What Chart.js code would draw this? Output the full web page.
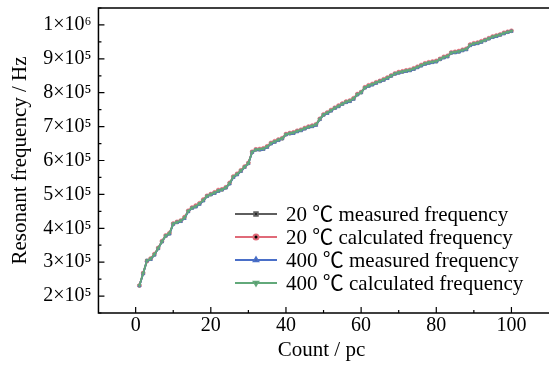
<!DOCTYPE html>
<html lang="en">
<head>
    <meta charset="UTF-8">
    <meta name="viewport" content="width=device-width, initial-scale=1.0">
    <title>Resonant frequency</title>
    <style>
        html, body { margin: 0; padding: 0; background: #fff; }
        .chart-box { width: 549px; height: 365px; }
    </style>
</head>
<body>

<div class="chart-box">
    <canvas id="freqChart"></canvas>
</div>

<script src="https://cdn.jsdelivr.net/npm/chart.js"></script>
<script>
    // Sample count (x axis)
    const counts = [1, 2, 3, 4, 5, 6, 7, 8, 9, 10, 11, 12, 13, 14, 15, 16, 17, 18, 19, 20,
        21, 22, 23, 24, 25, 26, 27, 28, 29, 30, 31, 32, 33, 34, 35, 36, 37, 38, 39, 40,
        41, 42, 43, 44, 45, 46, 47, 48, 49, 50, 51, 52, 53, 54, 55, 56, 57, 58, 59, 60,
        61, 62, 63, 64, 65, 66, 67, 68, 69, 70, 71, 72, 73, 74, 75, 76, 77, 78, 79, 80,
        81, 82, 83, 84, 85, 86, 87, 88, 89, 90, 91, 92, 93, 94, 95, 96, 97, 98, 99, 100];

    // Resonant frequency (Hz)
    const measured20 = [231000, 267000, 305000, 309000, 322000, 341000, 361000, 378000, 384000, 413000,
        418000, 421000, 430000, 450000, 460000, 464000, 472000, 482000, 495000, 500000,
        504000, 510000, 514000, 520000, 532000, 551000, 559000, 569000, 581000, 592000,
        625000, 632000, 632000, 634000, 640000, 650000, 655000, 660000, 665000, 677000,
        680000, 681000, 686000, 689000, 694000, 699000, 701000, 705000, 722000, 735000,
        740000, 747000, 755000, 760000, 767000, 772000, 775000, 782000, 795000, 801000,
        815000, 820000, 824000, 829000, 834000, 838000, 843000, 850000, 856000, 859000,
        862000, 864000, 866000, 870000, 875000, 880000, 885000, 888000, 890000, 892000,
        899000, 904000, 907000, 918000, 919000, 921000, 925000, 928000, 940000, 944000,
        946000, 950000, 955000, 960000, 964000, 967000, 971000, 975000, 979000, 982000];
    const calculated20 = [231000, 268000, 303000, 311000, 324000, 342000, 362000, 379000, 386000, 414000,
        419000, 423000, 433000, 452000, 461000, 467000, 474000, 485000, 496000, 501000,
        506000, 513000, 515000, 521000, 534000, 553000, 561000, 571000, 582000, 593000,
        626000, 633000, 634000, 636000, 642000, 652000, 657000, 662000, 666000, 678000,
        681000, 683000, 688000, 691000, 696000, 700000, 703000, 707000, 723000, 736000,
        742000, 749000, 756000, 762000, 768000, 774000, 777000, 784000, 796000, 802000,
        816000, 822000, 826000, 831000, 835000, 840000, 845000, 851000, 857000, 861000,
        863000, 866000, 868000, 872000, 877000, 882000, 887000, 890000, 892000, 894000,
        900000, 906000, 909000, 919000, 921000, 923000, 927000, 930000, 942000, 946000,
        948000, 952000, 956000, 961000, 966000, 969000, 972000, 977000, 980000, 983000];
    const measured400 = [230000, 266000, 304000, 308000, 321000, 340000, 360000, 377000, 383000, 412000,
        417000, 420000, 429000, 449000, 459000, 463000, 471000, 481000, 494000, 499000,
        503000, 509000, 513000, 519000, 531000, 550000, 558000, 568000, 580000, 591000,
        624000, 631000, 631000, 633000, 639000, 649000, 654000, 659000, 664000, 676000,
        679000, 680000, 685000, 688000, 693000, 698000, 700000, 704000, 721000, 734000,
        739000, 746000, 754000, 759000, 766000, 771000, 774000, 781000, 794000, 800000,
        814000, 819000, 823000, 828000, 833000, 837000, 842000, 849000, 855000, 858000,
        861000, 863000, 865000, 869000, 874000, 879000, 884000, 887000, 889000, 891000,
        898000, 903000, 906000, 917000, 918000, 920000, 924000, 927000, 939000, 943000,
        945000, 949000, 954000, 959000, 963000, 966000, 970000, 974000, 978000, 981000];
    const calculated400 = [231000, 267000, 304000, 310000, 323000, 341000, 361000, 378000, 385000, 413000,
        418000, 422000, 431000, 451000, 460000, 465000, 473000, 483000, 495000, 500000,
        505000, 511000, 514000, 520000, 533000, 552000, 560000, 570000, 581000, 592000,
        625000, 632000, 633000, 635000, 641000, 651000, 656000, 661000, 665000, 677000,
        680000, 682000, 687000, 690000, 695000, 699000, 702000, 706000, 722000, 735000,
        741000, 748000, 755000, 761000, 767000, 773000, 776000, 783000, 795000, 801000,
        815000, 821000, 825000, 830000, 834000, 839000, 844000, 850000, 856000, 860000,
        862000, 865000, 867000, 871000, 876000, 881000, 886000, 889000, 891000, 893000,
        899000, 905000, 908000, 918000, 920000, 922000, 926000, 929000, 941000, 945000,
        947000, 951000, 955000, 960000, 965000, 968000, 971000, 976000, 979000, 982000];

    // Axis ticks
    const xTicks = [0, 20, 40, 60, 80, 100];
    const xMinorTicks = [10, 30, 50, 70, 90];
    const yTicks = [200000, 300000, 400000, 500000, 600000, 700000, 800000, 900000, 1000000];
    const yTickLabels = ['2×10⁵', '3×10⁵', '4×10⁵', '5×10⁵', '6×10⁵', '7×10⁵', '8×10⁵', '9×10⁵', '1×10⁶'];
    const yMinorTicks = [150000, 250000, 350000, 450000, 550000, 650000, 750000, 850000, 950000, 1050000];

    const serif = '"Liberation Serif", "Noto Sans CJK SC", serif';

    // Frame, inward ticks and legend drawn on top of the plot
    const framePlugin = {
        id: 'framePlugin',
        afterDraw(chart) {
            const ctx = chart.ctx;
            const a = chart.chartArea;
            const xs = chart.scales.x;
            const ys = chart.scales.y;
            ctx.save();
            ctx.strokeStyle = '#000';
            ctx.lineWidth = 1.5;
            ctx.beginPath();
            ctx.moveTo(chart.width, a.top);
            ctx.lineTo(a.left, a.top);
            ctx.lineTo(a.left, a.bottom);
            ctx.lineTo(chart.width, a.bottom);
            ctx.stroke();

            ctx.lineWidth = 1.2;
            ctx.beginPath();
            xTicks.forEach(v => {
                const px = xs.getPixelForValue(v);
                ctx.moveTo(px, a.bottom); ctx.lineTo(px, a.bottom - 6);
            });
            xMinorTicks.forEach(v => {
                const px = xs.getPixelForValue(v);
                ctx.moveTo(px, a.bottom); ctx.lineTo(px, a.bottom - 3);
            });
            yTicks.forEach(v => {
                const py = ys.getPixelForValue(v);
                ctx.moveTo(a.left, py); ctx.lineTo(a.left + 6, py);
            });
            yMinorTicks.forEach(v => {
                const py = ys.getPixelForValue(v);
                ctx.moveTo(a.left, py); ctx.lineTo(a.left + 3, py);
            });
            ctx.stroke();

            // legend
            ctx.font = '21px ' + serif;
            ctx.textBaseline = 'middle';
            ctx.textAlign = 'left';
            chart.data.datasets.forEach((ds, i) => {
                const y = 214 + i * 23;
                ctx.strokeStyle = ds.borderColor;
                ctx.lineWidth = 2;
                ctx.beginPath();
                ctx.moveTo(235, y); ctx.lineTo(277, y);
                ctx.stroke();
                Chart.helpers.drawPoint(ctx, {
                    pointStyle: ds.pointStyle,
                    rotation: ds.pointRotation || 0,
                    radius: 2.5,
                    borderWidth: 1
                }, 256, y);
                ctx.fillStyle = '#000';
                ctx.fillText(ds.label, 286, y + 1);
            });
            ctx.restore();
        }
    };

    function series(label, data, color, style, rot, order) {
        return {
            label: label,
            data: data,
            borderColor: color,
            backgroundColor: color,
            borderWidth: 1.8,
            pointStyle: style,
            pointRotation: rot,
            pointRadius: 2,
            pointBorderWidth: 0.5,
            tension: 0,
            order: order
        };
    }

    new Chart(document.getElementById('freqChart').getContext('2d'), {
        type: 'line',
        data: {
            labels: counts,
            datasets: [
                series('20 ℃ measured frequency', measured20, '#5e5e5e', 'rect', 0, 3),
                series('20 ℃ calculated frequency', calculated20, '#e06a78', 'circle', 0, 2),
                series('400 ℃ measured frequency', measured400, '#4a6fc8', 'triangle', 0, 1),
                series('400 ℃ calculated frequency', calculated400, '#62a97a', 'triangle', 180, 0)
            ]
        },
        options: {
            responsive: true,
            maintainAspectRatio: false,
            animation: false,
            layout: { padding: { top: 8, right: -6, bottom: 4, left: 8 } },
            plugins: {
                legend: { display: false },
                tooltip: { enabled: false }
            },
            scales: {
                x: {
                    type: 'linear',
                    min: -9.9,
                    max: 108.8,
                    afterBuildTicks: s => { s.ticks = xTicks.map(v => ({ value: v })); },
                    grid: { display: false, drawTicks: false },
                    border: { display: false },
                    ticks: { color: '#000', padding: 1, font: { family: serif, size: 20 } },
                    title: { display: true, text: 'Count / pc', color: '#000', padding: { top: 1, bottom: 0 }, font: { family: serif, size: 21, lineHeight: 1.0 } }
                },
                y: {
                    min: 150000,
                    max: 1050000,
                    afterBuildTicks: s => { s.ticks = yTicks.map(v => ({ value: v })); },
                    grid: { display: false, drawTicks: false },
                    border: { display: false },
                    ticks: {
                        color: '#000',
                        padding: 7,
                        font: { family: serif, size: 20, lineHeight: 0.1 },
                        callback: (v, i) => yTickLabels[i]
                    },
                    title: { display: true, text: 'Resonant frequency / Hz', color: '#000', padding: { top: 0, bottom: 3 }, font: { family: serif, size: 21 } }
                }
            }
        },
        plugins: [framePlugin]
    });
</script>
</body>
</html>
